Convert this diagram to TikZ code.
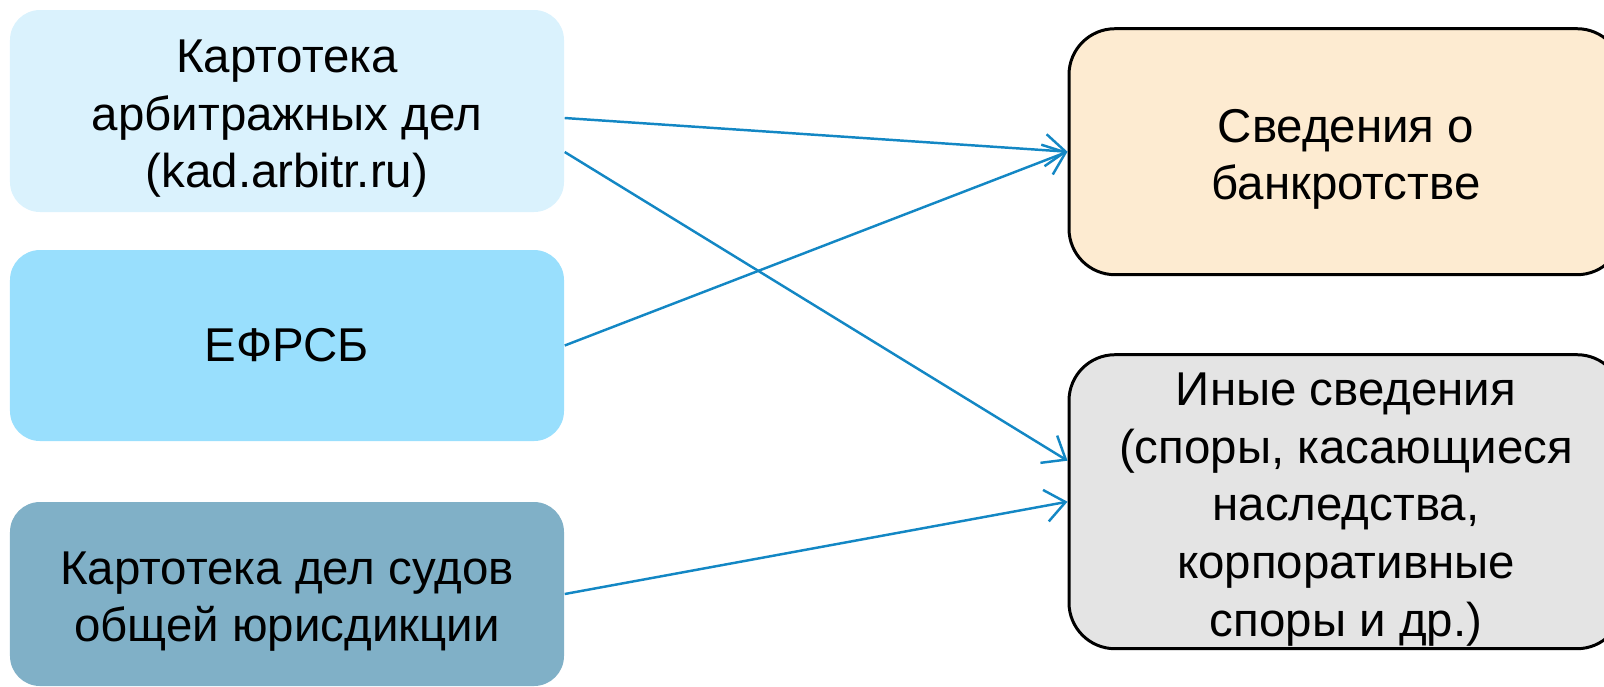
\documentclass[tikz,border=0pt]{standalone}
\usepackage{fontspec}
\setmainfont{Liberation Sans}
\usetikzlibrary{arrows.meta}
\definecolor{kadfill}{HTML}{DAF2FD}
\definecolor{efrsbfill}{HTML}{99DFFD}
\definecolor{sojfill}{HTML}{80B0C7}
\definecolor{bankfill}{HTML}{FDEBD1}
\definecolor{otherfill}{HTML}{E4E4E4}
\definecolor{linkblue}{HTML}{1387C4}
\newcommand{\padtop}{\rule{0pt}{13.7pt}}
\begin{document}
\begin{tikzpicture}[source/.style={
	rectangle, minimum width=5.54cm, rounded corners=3mm,
	inner ysep=0pt, align=center, font=\fontsize{13.5}{16.4}\selectfont},
	target/.style={
	rectangle, minimum width=5.54cm, rounded corners=4.6mm,
	draw=black, line width=0.85pt, inner ysep=0pt, align=center,
	font=\fontsize{13.5}{16.4}\selectfont},
	link/.style={draw=linkblue, line width=0.7pt,
	-{Straight Barb[length=2mm, width=3.2mm]}}]
	\useasboundingbox (0,0) rectangle (16.04,-6.86);
	\node[source, fill=kadfill, minimum height=2.02cm, xshift=2.87cm, yshift=-1.11cm] (kad) {\padtop Картотека\\арбитражных дел\\(kad.arbitr.ru)};
	\node[source, fill=efrsbfill, minimum height=1.91cm, xshift=2.87cm, yshift=-3.455cm] (efrsb) {ЕФРСБ};
	\node[source, fill=sojfill, minimum height=1.84cm, xshift=2.87cm, yshift=-5.94cm] (soj) {\padtop Картотека дел судов\\общей юрисдикции};
	\node[target, fill=bankfill, minimum height=2.46cm, xshift=13.46cm, yshift=-1.517cm] (bank) {\padtop Сведения о\\банкротстве};
	\node[target, fill=otherfill, minimum height=2.94cm, xshift=13.46cm, yshift=-5.017cm] (other) {\padtop Иные сведения\\(споры, касающиеся\\наследства,\\корпоративные\\споры и др.)};
	\draw[link] ([yshift=-0.07cm]kad.east) -- (bank.west);
	\draw[link] ([yshift=-0.41cm]kad.east) -- ([yshift=0.41cm]other.west);
	\draw[link] (efrsb.east) -- (bank.west);
	\draw[link] (soj.east) -- (other.west);
\end{tikzpicture}
\end{document}
